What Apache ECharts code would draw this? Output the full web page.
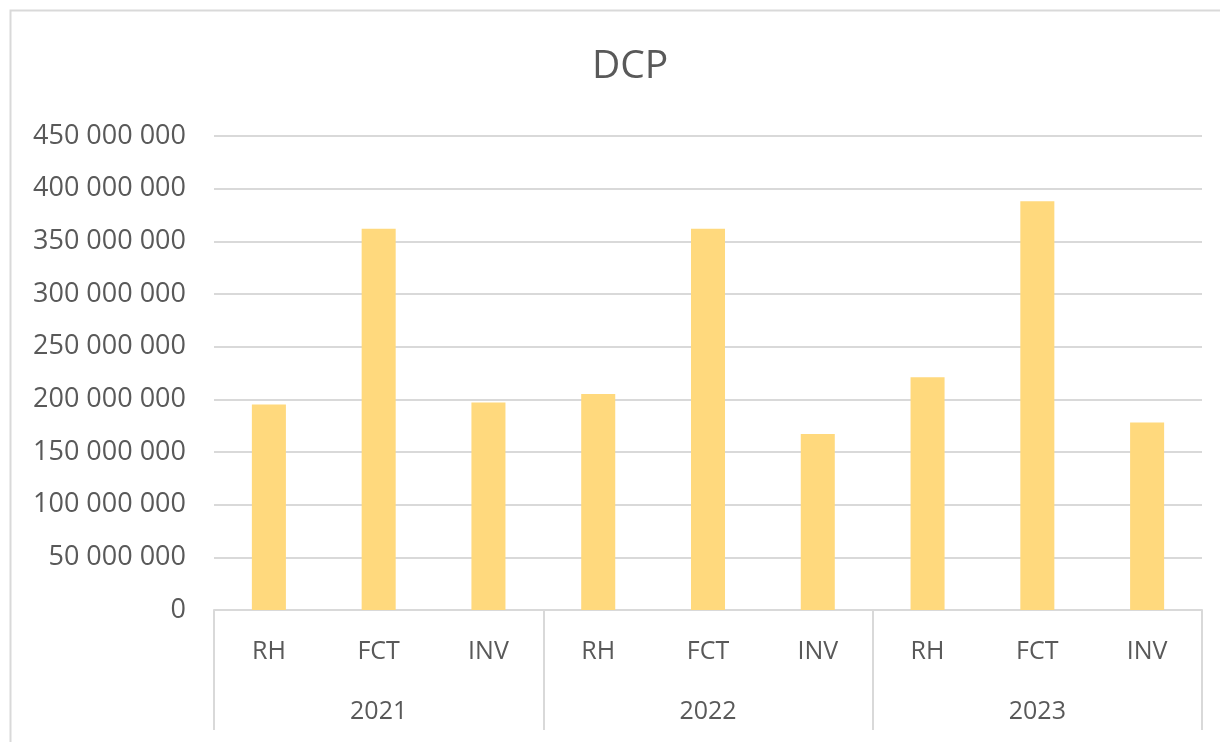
<!DOCTYPE html>
<html>
<head>
<meta charset="utf-8">
<title>DCP</title>
<script src="https://cdn.jsdelivr.net/npm/echarts@6/dist/echarts.min.js"></script>
<style>
  html, body { margin: 0; padding: 0; background: #fff; }
  #chart { width: 1220px; height: 742px; }
</style>
</head>
<body>
<div id="chart"></div>
<script>
// data
var years = ['2021', '2022', '2023'];
var groups = ['RH', 'FCT', 'INV'];
var categories = ['RH', 'FCT', 'INV', 'RH', 'FCT', 'INV', 'RH', 'FCT', 'INV'];
var values = [195000000, 362000000, 197000000, 205000000, 362000000, 167000000, 221000000, 388000000, 178000000];
var yTicks = [0, 50000000, 100000000, 150000000, 200000000, 250000000, 300000000, 350000000, 400000000, 450000000];

var textColor = '#595959';
var lineColor = '#D9D9D9';
var font = 'Open Sans';

function fmt(v){
    return String(v).replace(/\B(?=(\d{3})+(?!\d))/g, ' ');
}

var myChart = echarts.init(document.getElementById('chart'), null, {renderer: 'canvas'});

var option = {
    animation: false,
    backgroundColor: '#fff',
    title: {
        text: 'DCP',
        left: 587,
        top: 42,
        textStyle: {color: textColor, fontFamily: font, fontSize: 39, fontWeight: 'normal'}
    },
    graphic: [{
        type: 'rect',
        shape: {x: 10.5, y: 10.5, width: 1230, height: 760},
        style: {fill: 'none', stroke: lineColor, lineWidth: 2},
        silent: true
    }],
    grid: {left: 214, right: 18, top: 136, bottom: 132},
    xAxis: [
        {
            type: 'category',
            data: categories,
            position: 'bottom',
            axisLine: {show: true, lineStyle: {color: lineColor, width: 2}},
            axisTick: {
                show: true,
                length: 120,
                interval: function(index){ return index % groups.length === 0; },
                lineStyle: {color: lineColor, width: 2}
            },
            axisLabel: {color: textColor, fontFamily: font, fontSize: 25, margin: 29, interval: 0}
        },
        {
            type: 'category',
            data: years,
            position: 'bottom',
            axisLine: {show: false},
            axisTick: {show: false},
            axisLabel: {color: textColor, fontFamily: font, fontSize: 25, margin: 89, interval: 0}
        }
    ],
    yAxis: {
        type: 'value',
        min: 0,
        max: yTicks[yTicks.length - 1],
        interval: yTicks[1] - yTicks[0],
        axisLine: {show: false},
        axisTick: {show: false},
        splitLine: {lineStyle: {color: lineColor, width: 2}},
        axisLabel: {
            color: textColor, fontFamily: font, fontSize: 27, margin: 28,
            formatter: function(v){ return fmt(v); }
        }
    },
    series: [
        {
            type: 'bar',
            xAxisIndex: 0,
            data: values,
            barWidth: '31%',
            itemStyle: {color: '#FFD97D'}
        }
    ]
};

myChart.setOption(option);
window.addEventListener('resize', myChart.resize);
</script>
</body>
</html>
